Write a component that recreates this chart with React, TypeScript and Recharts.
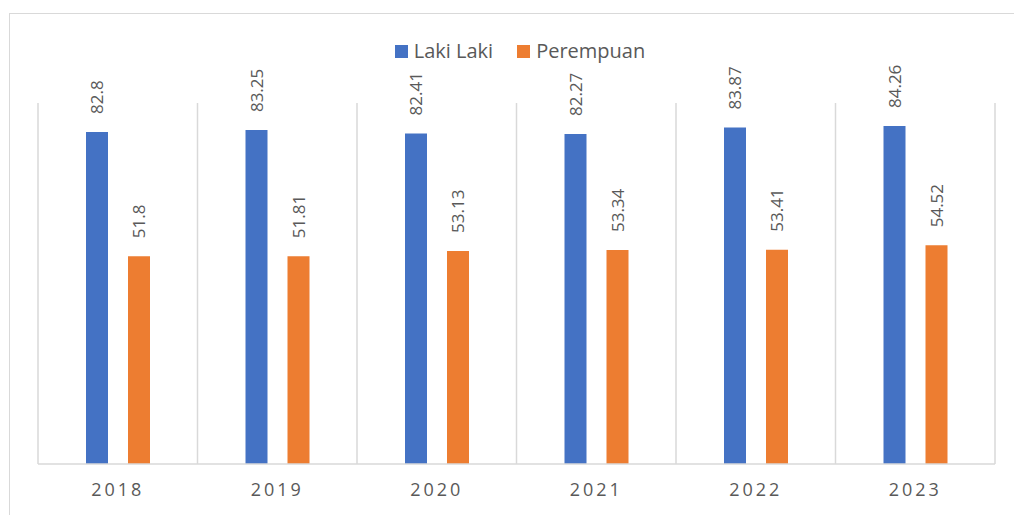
import { Bar, BarChart, CartesianGrid, LabelList, Legend, XAxis, YAxis } from "recharts";

const years = ["2018", "2019", "2020", "2021", "2022", "2023"];
const lakiLaki = [82.8, 83.25, 82.41, 82.27, 83.87, 84.26];
const perempuan = [51.8, 51.81, 53.13, 53.34, 53.41, 54.52];

const data = years.map((year, i) => ({ year, laki: lakiLaki[i], perempuan: perempuan[i] }));

const FONT = "'Open Sans', sans-serif";
const TEXT = "#595959";
const GRID = "#d9d9d9";

function ValueLabel(props: any) {
  const { x, y, width, value } = props;
  const cx = Number(x) + Number(width) / 2;
  const ty = Number(y) - 18;
  return (
    <text
      x={cx}
      y={ty}
      transform={`rotate(-90 ${cx} ${ty})`}
      textAnchor="start"
      dominantBaseline="central"
      fontSize={17}
      fontFamily={FONT}
      fill={TEXT}
    >
      {value}
    </text>
  );
}

function YearTick(props: any) {
  const { x, y, payload } = props;
  return (
    <text x={x} y={y + 24} textAnchor="middle" fontSize={18} fontFamily={FONT} fill={TEXT} letterSpacing={3}>
      {payload.value}
    </text>
  );
}

function LegendBox(props: any) {
  const items = props.payload || [];
  return (
    <div style={{ display: "flex", justifyContent: "center", gap: 24, fontFamily: FONT, fontSize: 20, color: TEXT }}>
      {items.map((it: any) => (
        <span key={it.value} style={{ display: "inline-flex", alignItems: "center" }}>
          <span style={{ width: 13, height: 13, background: it.color, display: "inline-block", marginRight: 6 }} />
          <span style={{ lineHeight: "22px" }}>{it.value}</span>
        </span>
      ))}
    </div>
  );
}

export default function App() {
  return (
    <div style={{ position: "absolute", left: 0, top: 0, width: 1014, height: 515, overflow: "hidden", background: "#fff" }}>
      <div
        style={{
          position: "absolute",
          left: 9,
          top: 13,
          width: 1100,
          height: 600,
          border: `1.5px solid ${GRID}`,
        }}
      />
      <div style={{ position: "absolute", left: 0, top: 0 }}>
        <BarChart
          width={1014}
          height={515}
          data={data}
          margin={{ top: 103, right: 19, bottom: 21, left: 38 }}
          barSize={22}
          barGap={20}
        >
          <CartesianGrid
            horizontal={false}
            stroke={GRID}
            strokeWidth={1.5}
            verticalCoordinatesGenerator={({ offset }: any) =>
              Array.from({ length: years.length + 1 }, (_, i) => offset.left + (offset.width * i) / years.length)
            }
          />
          <XAxis
            dataKey="year"
            height={30}
            tickLine={false}
            axisLine={{ stroke: GRID, strokeWidth: 1.5 }}
            tick={<YearTick />}
            interval={0}
          />
          <YAxis hide domain={[0, 90]} />
          <Legend
            verticalAlign="middle"
            align="center"
            layout="horizontal"
            wrapperStyle={{ top: 40, left: 0, width: 1040 }}
            content={<LegendBox />}
          />
          <Bar dataKey="laki" name="Laki Laki" fill="#4472C4" isAnimationActive={false}>
            <LabelList dataKey="laki" content={<ValueLabel />} />
          </Bar>
          <Bar dataKey="perempuan" name="Perempuan" fill="#ED7D31" isAnimationActive={false}>
            <LabelList dataKey="perempuan" content={<ValueLabel />} />
          </Bar>
        </BarChart>
      </div>
    </div>
  );
}
